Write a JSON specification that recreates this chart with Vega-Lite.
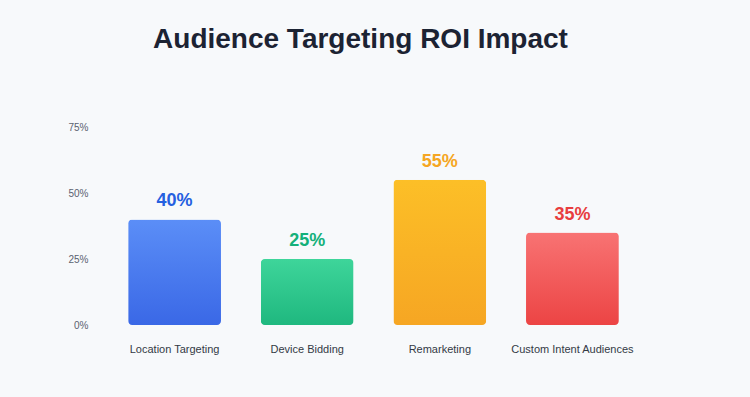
{
  "$schema": "https://vega.github.io/schema/vega-lite/v6.json",
  "width": 557,
  "height": 198,
  "autosize": "none",
  "padding": {"left": 95, "top": 127, "right": 98, "bottom": 72},
  "background": "#f7f9fb",
  "config": {"view": {"stroke": null}},
  "title": {
    "text": "Audience Targeting ROI Impact",
    "font": "Liberation Sans",
    "fontSize": 28,
    "fontWeight": "bold",
    "color": "#1c2333",
    "anchor": "middle",
    "dx": -13,
    "offset": 68
  },
  "data": {
    "values": [
      {"strategy": "Location Targeting", "roi": 0.40},
      {"strategy": "Device Bidding", "roi": 0.25},
      {"strategy": "Remarketing", "roi": 0.55},
      {"strategy": "Custom Intent Audiences", "roi": 0.35}
    ]
  },
  "encoding": {
    "x": {
      "field": "strategy",
      "type": "nominal",
      "sort": null,
      "scale": {"paddingInner": 0.3, "paddingOuter": 0.25},
      "axis": {
        "title": null,
        "labelAngle": 0,
        "domain": false,
        "ticks": false,
        "labelPadding": 18,
        "labelFont": "Liberation Sans",
        "labelFontSize": 11,
        "labelColor": "#333a45"
      }
    },
    "y": {
      "field": "roi",
      "type": "quantitative",
      "scale": {"domain": [0, 0.75]},
      "axis": {
        "title": null,
        "values": [0, 0.25, 0.5, 0.75],
        "format": ".0%",
        "domain": false,
        "ticks": false,
        "grid": false,
        "labelPadding": 7,
        "labelFont": "Liberation Sans",
        "labelFontSize": 10,
        "labelColor": "#5a6270"
      }
    }
  },
  "layer": [
    {
      "transform": [{"filter": "datum.strategy == 'Location Targeting'"}],
      "mark": {"type": "bar", "cornerRadius": 4, "color": {"gradient": "linear", "x1": 0, "y1": 0, "x2": 0, "y2": 1, "stops": [{"offset": 0, "color": "#5b8ef7"}, {"offset": 1, "color": "#3a68e6"}]}}
    },
    {
      "transform": [{"filter": "datum.strategy == 'Device Bidding'"}],
      "mark": {"type": "bar", "cornerRadius": 4, "color": {"gradient": "linear", "x1": 0, "y1": 0, "x2": 0, "y2": 1, "stops": [{"offset": 0, "color": "#3ed59a"}, {"offset": 1, "color": "#1fb87f"}]}}
    },
    {
      "transform": [{"filter": "datum.strategy == 'Remarketing'"}],
      "mark": {"type": "bar", "cornerRadius": 4, "color": {"gradient": "linear", "x1": 0, "y1": 0, "x2": 0, "y2": 1, "stops": [{"offset": 0, "color": "#fcbf27"}, {"offset": 1, "color": "#f6a623"}]}}
    },
    {
      "transform": [{"filter": "datum.strategy == 'Custom Intent Audiences'"}],
      "mark": {"type": "bar", "cornerRadius": 4, "color": {"gradient": "linear", "x1": 0, "y1": 0, "x2": 0, "y2": 1, "stops": [{"offset": 0, "color": "#f87373"}, {"offset": 1, "color": "#ec4444"}]}}
    },
    {
      "mark": {"type": "text", "font": "Liberation Sans", "fontSize": 18, "fontWeight": "bold", "baseline": "alphabetic", "dy": -13},
      "encoding": {
        "text": {"field": "roi", "type": "quantitative", "format": ".0%"},
        "color": {
          "field": "strategy",
          "type": "nominal",
          "sort": null,
          "scale": {
            "domain": ["Location Targeting", "Device Bidding", "Remarketing", "Custom Intent Audiences"],
            "range": ["#2560e0", "#14b07a", "#f5a623", "#e83e3e"]
          },
          "legend": null
        }
      }
    }
  ]
}
